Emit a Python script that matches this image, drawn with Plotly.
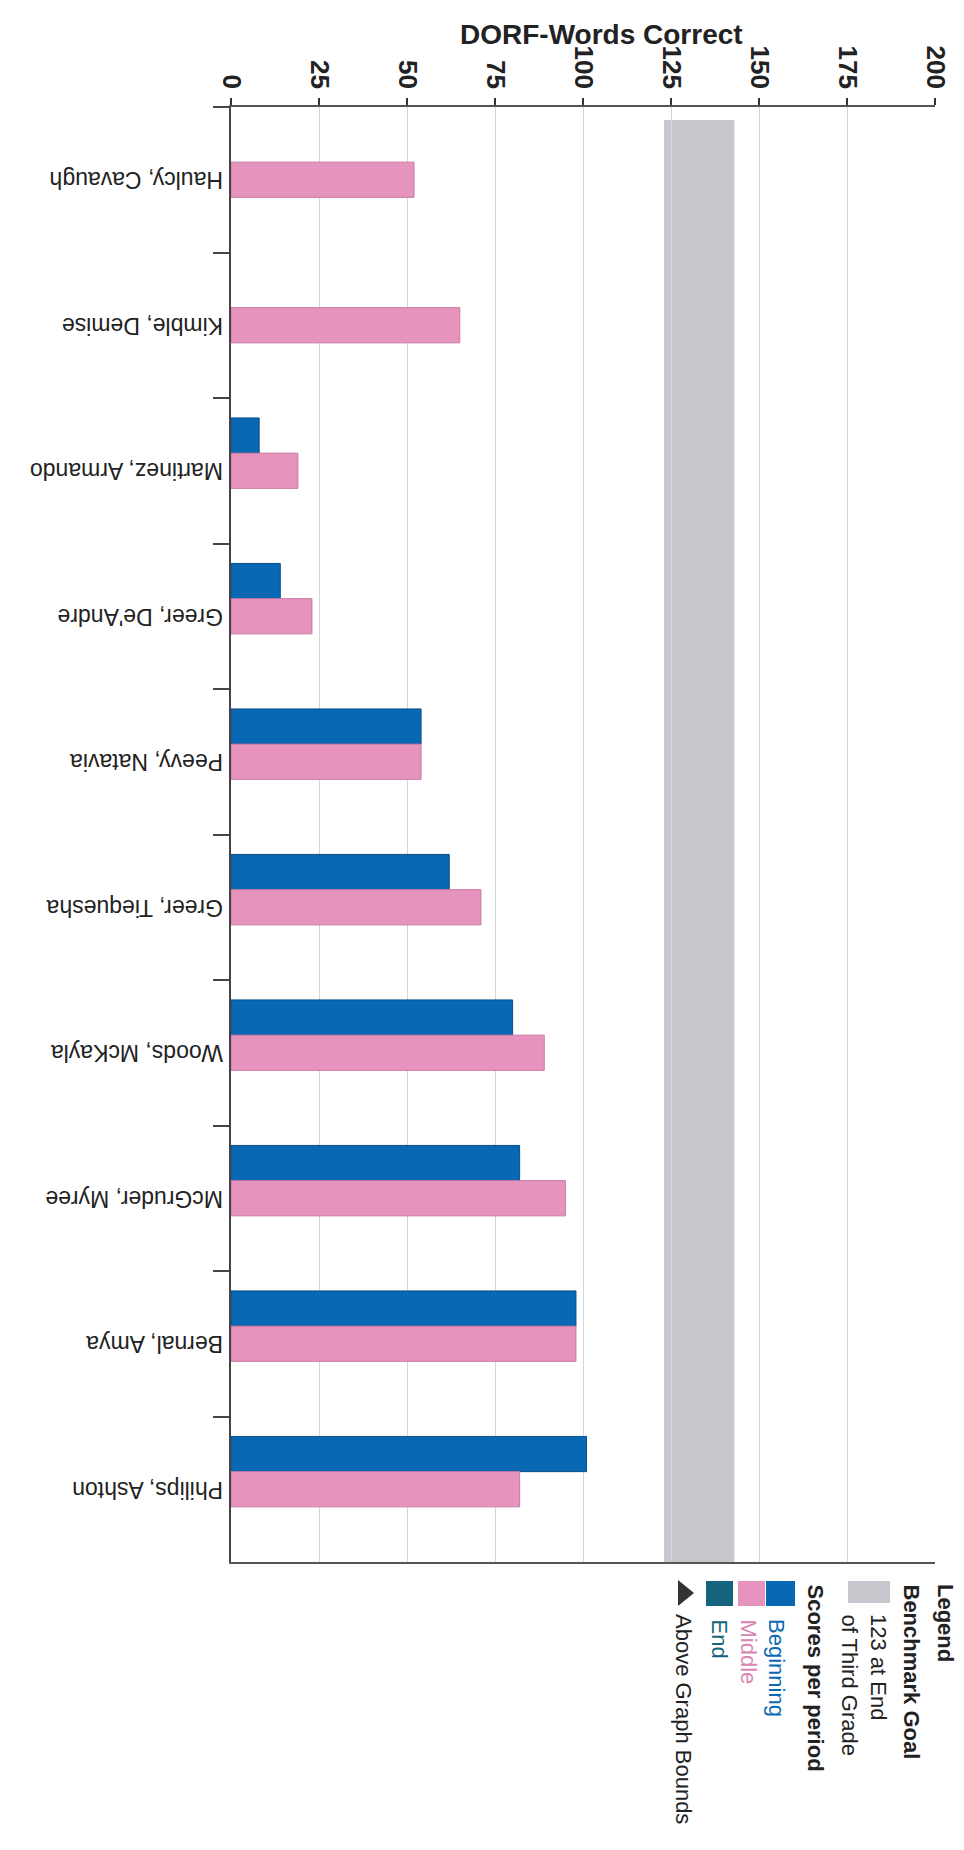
import plotly.graph_objects as go

students = ["Haulcy, Cavaugh", "Kimble, Demise", "Martinez, Armando", "Greer, De'Andre",
            "Peevy, Natavia", "Greer, Tiequesha", "Woods, McKayla", "McGruder, Myree",
            "Bernal, Amya", "Philips, Ashton"]
beginning = [None, None, 8, 14, 54, 62, 80, 82, 98, 101]
middle = [52, 65, 19, 23, 54, 71, 89, 95, 98, 82]
end = [None] * 10
benchmark_band = [123, 143]
x_ticks = [0, 25, 50, 75, 100, 125, 150, 175, 200]

W, H = 964, 1850
L, R, T, B = 223, 37, 99, 296
PW, PH = W - L - R, H - T - B

def px(x):
    return (x - L) / PW

def py(y):
    return (H - B - y) / PH

FONT = "Liberation Sans, Arial, sans-serif"
BLUE = "#0868b4"
PINK = "#e693be"
TEAL = "#13647c"
GREY = "#c6c8cd"

fig = go.Figure()
fig.add_trace(go.Bar(y=students, x=beginning, orientation="h", name="Beginning",
                     marker=dict(color=BLUE, line=dict(color="#0a4d87", width=1))))
fig.add_trace(go.Bar(y=students, x=middle, orientation="h", name="Middle",
                     marker=dict(color=PINK, line=dict(color="#c97aa3", width=1))))
fig.add_trace(go.Bar(y=students, x=end, orientation="h", name="End",
                     marker=dict(color=TEAL)))

shapes = [dict(type="rect", xref="x", yref="paper", x0=benchmark_band[0], x1=benchmark_band[1],
               y0=0, y1=py(T + 13), fillcolor=GREY, line=dict(width=0), layer="below")]

DX, DY = -5, -10  # legend offset

def rect(x0, x1, y0, y1, color):
    return dict(type="rect", xref="paper", yref="paper", x0=px(x0 + DX), x1=px(x1 + DX),
                y0=py(y1 + DY), y1=py(y0 + DY), fillcolor=color, line=dict(width=0))

shapes += [rect(845, 887, 1583, 1605, GREY),
           rect(763, 792, 1583, 1608, BLUE),
           rect(735, 762, 1583, 1608, PINK),
           rect(703, 730, 1583, 1608, TEAL)]
shapes.append(dict(type="path", xref="paper", yref="paper",
                   path=(f"M {px(675 + DX)} {py(1582 + DY)} L {px(675 + DX)} {py(1608 + DY)} "
                         f"L {px(691 + DX)} {py(1595 + DY)} Z"),
                   fillcolor="#333333", line=dict(width=0)))

annotations = [dict(text="DORF-Words Correct", x=px(593), y=py(27), xref="paper", yref="paper",
                    showarrow=False, xanchor="center", yanchor="middle",
                    font=dict(family=FONT, size=28, color="#222222", weight="bold"))]

# category labels, drawn upside down as in the scanned chart
for name in students:
    annotations.append(dict(text=name, x=px(217), y=name, xref="paper", yref="y",
                            showarrow=False, xanchor="right", yanchor="middle", textangle=180,
                            font=dict(family=FONT, size=23, color="#222222")))

def leg(text, xc, ytop, color="#222222", bold=False):
    return dict(text=text, x=px(xc + DX), y=py(ytop + DY), xref="paper", yref="paper",
                showarrow=False, xanchor="center", yanchor="top", textangle=90,
                font=dict(family=FONT, size=22, color=color, weight="bold" if bold else "normal"))

annotations += [leg("Legend", 943, 1584, bold=True),
                leg("Benchmark Goal", 908, 1584, bold=True),
                leg("123 at End", 876, 1614),
                leg("of Third Grade", 846, 1614),
                leg("Scores per period", 812, 1584, bold=True),
                leg("Beginning", 774, 1619, color=BLUE),
                leg("Middle", 745, 1619, color="#d986b3"),
                leg("End", 716, 1619, color=TEAL),
                leg("Above Graph Bounds", 681, 1614)]

fig.update_layout(
    width=W, height=H, margin=dict(l=L, r=R, t=T, b=B),
    paper_bgcolor="white", plot_bgcolor="white",
    barmode="group", bargap=0.274, bargroupgap=0,
    showlegend=False, shapes=shapes, annotations=annotations,
    xaxis=dict(range=[0, 200], side="top", tickvals=x_ticks, ticktext=[str(v) for v in x_ticks],
               tickangle=90, ticks="outside", ticklen=7, tickcolor="#333333", tickwidth=2,
               tickfont=dict(family=FONT, size=26, color="#222222", weight="bold"),
               showgrid=True, gridcolor="#d6d6d6", gridwidth=1,
               showline=True, linecolor="#555555", linewidth=2, mirror=True, zeroline=False),
    yaxis=dict(autorange="reversed", type="category", tickson="boundaries",
               ticks="outside", ticklen=16, tickcolor="#444444", tickwidth=2,
               showticklabels=False,
               showgrid=False, showline=True, linecolor="#444444", linewidth=2),
)

fig.write_html("out.html")
